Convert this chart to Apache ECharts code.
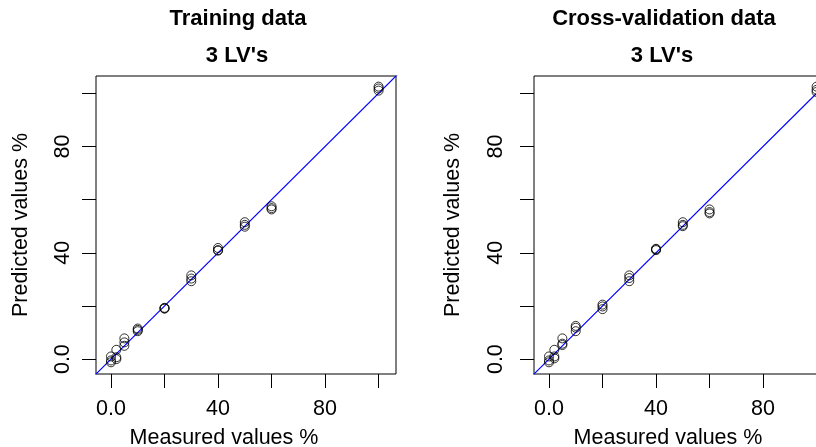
<!DOCTYPE html>
<html>
<head>
<meta charset="utf-8">
<script src="https://cdn.jsdelivr.net/npm/echarts@6/dist/echarts.min.js"></script>
<style>
  html, body { margin: 0; padding: 0; background: #fff; }
  #chart { width: 816px; height: 447px; }
</style>
</head>
<body>
<div id="chart"></div>
<script>
// measured vs predicted, 3 replicates per level
var trainMeasured = [0, 0, 0, 2, 2, 2, 5, 5, 5, 10, 10, 10, 20, 20, 20, 30, 30, 30, 40, 40, 40, 50, 50, 50, 60, 60, 60, 100, 100, 100];
var trainPredicted = [1.0, -0.5, -1.2, 3.5, 0.7, 0.0, 7.8, 6.3, 5.0, 11.5, 10.5, 11.0, 19.3, 19.0, 19.1, 31.5, 30.3, 29.3, 41.8, 40.8, 41.0, 51.5, 50.5, 49.8, 57.5, 56.3, 56.8, 102.5, 101.8, 101.0];
var cvMeasured = [0, 0, 0, 2, 2, 2, 5, 5, 5, 10, 10, 10, 20, 20, 20, 30, 30, 30, 40, 40, 40, 50, 50, 50, 60, 60, 60, 100, 100, 100];
var cvPredicted = [1.0, -0.5, -1.2, 3.5, 1.0, 0.3, 7.8, 5.8, 5.3, 12.5, 11.8, 10.5, 20.5, 19.8, 18.8, 31.5, 30.5, 29.3, 41.5, 41.0, 41.3, 51.5, 50.0, 50.5, 56.3, 55.3, 54.8, 102.5, 101.3, 100.5];

var tickValues = [0, 20, 40, 60, 80, 100];
var labelValues = [0, 40, 80];
var axisMin = -5.6, axisMax = 106.5;

var myChart = echarts.init(document.getElementById('chart'));

function pairs(xs, ys) {
    return xs.map(function (x, i) { return [x, ys[i]]; });
}
function fmt(v) { return v === 0 ? '0.0' : String(v); }

function makeAxis(gridIndex, name, isY, nameGap, namePad, labelMargin) {
    return {
        type: 'value',
        gridIndex: gridIndex,
        min: axisMin,
        max: axisMax,
        name: name,
        nameLocation: 'middle',
        nameGap: nameGap,
        nameTextStyle: { color: '#000', fontSize: 21.5, fontFamily: 'Liberation Sans', padding: namePad },
        axisLine: { show: false, onZero: false },
        axisTick: { show: true, length: 14, customValues: tickValues, lineStyle: { color: '#000', width: 1 } },
        axisLabel: {
            customValues: labelValues,
            formatter: fmt,
            rotate: isY ? 90 : 0,
            margin: labelMargin,
            color: '#000', fontSize: 21.5, fontFamily: 'Liberation Sans'
        },
        splitLine: { show: false }
    };
}

var option = {
    animation: false,
    backgroundColor: '#fff',
    grid: [
        { left: 96, top: 76, width: 300, height: 298, show: true, borderColor: '#000', borderWidth: 1, outerBoundsMode: 'none' },
        { left: 534, top: 76, width: 300, height: 298, show: true, borderColor: '#000', borderWidth: 1, outerBoundsMode: 'none' }
    ],
    xAxis: [
        makeAxis(0, 'Measured values %', false, 53, [0, 44, 0, 0], 24),
        makeAxis(1, 'Measured values %', false, 53, [0, 32, 0, 0], 24)
    ],
    yAxis: [
        makeAxis(0, 'Predicted values %', true, 64, [0, 0, 0, 0], 22),
        makeAxis(1, 'Predicted values %', true, 70, [0, 0, 0, 0], 27)
    ],
    graphic: [
        { type: 'text', x: 238, y: 19, style: { text: 'Training data', font: 'bold 22px "Liberation Sans"', fill: '#000', align: 'center', verticalAlign: 'middle' } },
        { type: 'text', x: 237, y: 56, style: { text: "3 LV's", font: 'bold 22px "Liberation Sans"', fill: '#000', align: 'center', verticalAlign: 'middle' } },
        { type: 'text', x: 664, y: 19, style: { text: 'Cross-validation data', font: 'bold 22px "Liberation Sans"', fill: '#000', align: 'center', verticalAlign: 'middle' } },
        { type: 'text', x: 662, y: 56, style: { text: "3 LV's", font: 'bold 22px "Liberation Sans"', fill: '#000', align: 'center', verticalAlign: 'middle' } }
    ],
    series: [
        {
            type: 'line', xAxisIndex: 0, yAxisIndex: 0, clip: true, symbol: 'none', z: 1,
            data: [[axisMin - 5, axisMin - 5], [axisMax + 5, axisMax + 5]],
            lineStyle: { color: '#0000ff', width: 1.2 }
        },
        {
            type: 'line', xAxisIndex: 1, yAxisIndex: 1, clip: true, symbol: 'none', z: 1,
            data: [[axisMin - 5, axisMin - 5], [axisMax + 5, axisMax + 5]],
            lineStyle: { color: '#0000ff', width: 1.2 }
        },
        {
            type: 'scatter', xAxisIndex: 0, yAxisIndex: 0, symbol: 'circle', symbolSize: 9, z: 3,
            data: pairs(trainMeasured, trainPredicted),
            itemStyle: { color: 'rgba(0,0,0,0)', borderColor: '#000', borderWidth: 1 }
        },
        {
            type: 'scatter', xAxisIndex: 1, yAxisIndex: 1, symbol: 'circle', symbolSize: 9, z: 3,
            data: pairs(cvMeasured, cvPredicted),
            itemStyle: { color: 'rgba(0,0,0,0)', borderColor: '#000', borderWidth: 1 }
        }
    ]
};

myChart.setOption(option);
</script>
</body>
</html>
